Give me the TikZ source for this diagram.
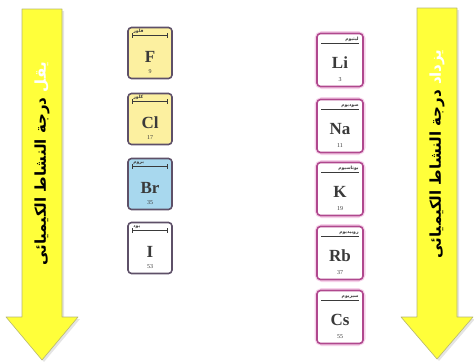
\documentclass[tikz,border=0pt]{standalone}
\usepackage{fontspec}
\newfontfamily\arabicfont[Script=Arabic]{DejaVu Sans}
\newfontfamily\symfont{Liberation Serif}
\TeXXeTstate=1
\usetikzlibrary{calc}
\definecolor{arrowyellow}{HTML}{FFFF3A}
\definecolor{arrowedge}{HTML}{B8B870}
\definecolor{lborder}{HTML}{5E5068}
\definecolor{rborder}{HTML}{B0488E}
\definecolor{rglow}{HTML}{F6D2EA}
\definecolor{ffill}{HTML}{FCF0A0}
\definecolor{bfill}{HTML}{A8D8EE}
\definecolor{symcol}{HTML}{3A3A3A}
\definecolor{decrcol}{HTML}{2A90B0}
\definecolor{incrcol}{HTML}{E8401C}
\tikzset{
  arrowbody/.style={fill=arrowyellow, draw=arrowedge, line width=0.6pt, line join=round},
  arrowshadow/.style={fill=black!30, opacity=0.35},
  lbox/.style={draw=lborder, line width=1.6pt, rounded corners=3.5pt, minimum width=44pt, minimum height=51pt, inner sep=0pt},
  rglowbox/.style={draw=rglow, line width=5pt, rounded corners=5pt, minimum width=46pt, minimum height=53pt, inner sep=0pt},
  rbox/.style={draw=rborder, line width=1.6pt, rounded corners=3.5pt, minimum width=46pt, minimum height=53pt, inner sep=0pt, fill=white},
  symb/.style={font=\symfont\bfseries\fontsize{17}{17}\selectfont, text=symcol, inner sep=0pt},
  numb/.style={font=\symfont\fontsize{6}{6}\selectfont, text=symcol, inner sep=0pt},
  tinylab/.style={font=\arabicfont\bfseries\fontsize{4.5}{4.5}\selectfont, text=symcol, inner sep=0pt},
  topline/.style={draw=symcol, line width=0.9pt},
  arrowtext/.style={font=\arabicfont\bfseries\fontsize{15}{15}\selectfont, rotate=90, inner sep=0pt}
}
\newcommand\leftelem[7]{%
  \node[lbox, fill=#4] (#1) at (#2,#3) {};
  \draw[topline] ($(#1.north west)+(5,9)$) coordinate (#1a) -- ($(#1.north east)+(-5,9)$) coordinate (#1b);
  \draw[topline] ($(#1a)+(0,-2.5)$) -- ($(#1a)+(0,2.5)$);
  \draw[topline] ($(#1b)+(0,-2.5)$) -- ($(#1b)+(0,2.5)$);
  \node[tinylab, anchor=south west] (#1lab) at ($(#1a)+(1,-1.5)$) {\beginR #7\endR};
  \node[symb] (#1sym) at ($(#1.center)+(0,4)$) {#5};
  \node[numb] (#1num) at ($(#1.south)+(0,-8)$) {#6};
}
\newcommand\rightelem[6]{%
  \node[rglowbox] (#1glow) at (#2,#3) {};
  \node[rbox] (#1) at (#2,#3) {};
  \draw[topline] ($(#1.north west)+(5,11)$) -- ($(#1.north east)+(-5,11)$);
  \node[tinylab, anchor=south east] (#1lab) at ($(#1.north east)+(-5,9.5)$) {\beginR #6\endR};
  \node[symb] (#1sym) at ($(#1.center)+(0,3)$) {#4};
  \node[numb] (#1num) at ($(#1.south)+(0,-8)$) {#5};
}
\begin{document}
\begin{tikzpicture}[x=1pt,y=-1pt]
\useasboundingbox (0,0) rectangle (474,362);
% left arrow
\fill[arrowshadow] (24,11) -- (64,11) -- (64,319) -- (80,319) -- (44,362) -- (8,319) -- (24,319) -- cycle;
\path[arrowbody] (22,9) -- (62,9) -- (62,317) -- (78,317) -- (42,360) -- (6,317) -- (22,317) -- cycle;
\node[arrowtext] (lefttext) at (42,164) {\beginR{\color{decrcol}يقل} درجة النشاط الكيميائى\endR};
% right arrow
\fill[arrowshadow] (419,10) -- (459,10) -- (459,319) -- (475,319) -- (439,361) -- (403,319) -- (419,319) -- cycle;
\path[arrowbody] (417,8) -- (457,8) -- (457,317) -- (473,317) -- (437,359) -- (401,317) -- (417,317) -- cycle;
\node[arrowtext] (righttext) at (437,154) {\beginR{\color{incrcol}يزداد} درجة النشاط الكيميائى\endR};
% halogens
\leftelem{F}{150}{53}{ffill}{F}{9}{فلور}
\leftelem{Cl}{150}{119}{ffill}{Cl}{17}{كلور}
\leftelem{Br}{150}{184}{bfill}{Br}{35}{بروم}
\leftelem{I}{150}{248}{white}{I}{53}{يود}
% alkali metals
\rightelem{Li}{340}{60}{Li}{3}{ليثيوم}
\rightelem{Na}{340}{126}{Na}{11}{صوديوم}
\rightelem{K}{340}{189}{K}{19}{بوتاسيوم}
\rightelem{Rb}{340}{253}{Rb}{37}{روبيديوم}
\rightelem{Cs}{340}{317}{Cs}{55}{سيزيوم}
\end{tikzpicture}
\end{document}
